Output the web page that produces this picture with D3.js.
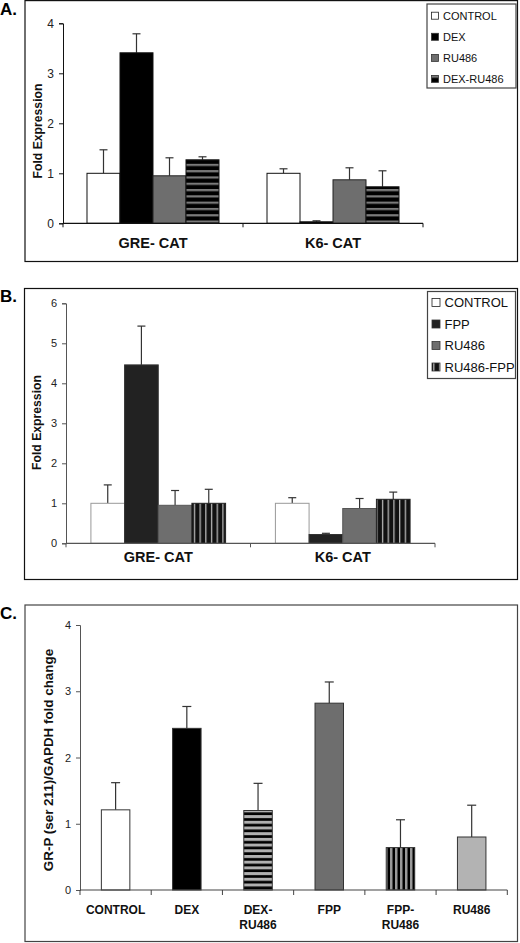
<!DOCTYPE html>
<html><head><meta charset="utf-8">
<script src="https://cdn.jsdelivr.net/npm/d3@7"></script>
<style>html,body{margin:0;padding:0;background:#fff}svg{display:block}text{font-family:"Liberation Sans",Arial,sans-serif}</style>
</head><body>
<svg id="c" width="520" height="943"></svg>
<script>
// ---- data ----
const catsAB = ["GRE- CAT", "K6- CAT"];
const seriesA = ["CONTROL", "DEX", "RU486", "DEX-RU486"];
const meansA = [[1.0, 3.41, 0.95, 1.27], [1.0, 0.03, 0.87, 0.73]];
const errTopA = [[1.47, 3.79, 1.31, 1.33], [1.09, 0.05, 1.11, 1.05]];
const ticksA = [0, 1, 2, 3, 4];

const seriesB = ["CONTROL", "FPP", "RU486", "RU486-FPP"];
const meansB = [[1.0, 4.46, 0.95, 1.0], [1.0, 0.22, 0.87, 1.1]];
const errTopB = [[1.46, 5.43, 1.32, 1.35], [1.14, 0.25, 1.12, 1.28]];
const ticksB = [0, 1, 2, 3, 4, 5, 6];

const catsC = ["CONTROL", "DEX", "DEX-\nRU486", "FPP", "FPP-\nRU486", "RU486"];
const meansC = [1.21, 2.44, 1.2, 2.82, 0.64, 0.80];
const errTopC = [1.62, 2.77, 1.61, 3.14, 1.06, 1.28];
const ticksC = [0, 1, 2, 3, 4];

const svg = d3.select("#c");
const defs = svg.append("defs");
function hPattern(id, bg, fg, period, lineH) {
  const p = defs.append("pattern").attr("id", id).attr("patternUnits", "userSpaceOnUse")
    .attr("width", 10).attr("height", period);
  p.append("rect").attr("width", 10).attr("height", period).attr("fill", bg);
  p.append("rect").attr("y", 0).attr("width", 10).attr("height", lineH).attr("fill", fg);
}
function vPattern(id, bg, fg, period, lineW) {
  const p = defs.append("pattern").attr("id", id).attr("patternUnits", "userSpaceOnUse")
    .attr("width", period).attr("height", 10);
  p.append("rect").attr("width", period).attr("height", 10).attr("fill", bg);
  p.append("rect").attr("x", 0).attr("width", lineW).attr("height", 10).attr("fill", fg);
}
hPattern("pA", "#000", "#7a7a7a", 6.3, 2.2);
vPattern("pB", "#111", "#b5b5b5", 5.7, 1.3);
hPattern("pC1", "#000", "#b0b0b0", 5.7, 3);
vPattern("pC2", "#000", "#9a9a9a", 5.0, 2.5);

const fillsA = ["#fff", "#000", "#6e6e6e", "url(#pA)"];
const fillsB = ["#fff", "#222", "#6e6e6e", "url(#pB)"];
const fillsC = ["#fff", "#000", "url(#pC1)", "#6e6e6e", "url(#pC2)", "#b3b3b3"];

// ---- frames and titles ----
function frame(x0, y0, x1, y1, col) {
  svg.append("rect").attr("x", x0).attr("y", y0).attr("width", x1 - x0).attr("height", y1 - y0)
    .attr("fill", "none").attr("stroke", col).attr("stroke-width", 1.2);
}
frame(25, 0.6, 517.5, 261.5, "#111");
frame(24.5, 288.5, 517.5, 579.5, "#111");
frame(25, 605, 517.5, 941.5, "#444");
[["A.", 15], ["B.", 302], ["C.", 619]].forEach(([t, y]) =>
  svg.append("text").attr("x", 0).attr("y", y).attr("font-size", 17).attr("font-weight", "bold").text(t));

// ---- grouped panel ----
function grouped(cfg) {
  const g = svg.append("g");
  const y = d3.scaleLinear().domain([0, cfg.ymax]).range([cfg.y0, cfg.yTop]);
  const x0 = d3.scaleBand().domain(catsAB).range([cfg.xl, cfg.xr]).paddingInner(cfg.pi).paddingOuter(cfg.po);
  const x1 = d3.scaleBand().domain(cfg.series).range([0, x0.bandwidth()]);
  const step = (cfg.xr - cfg.xl) / catsAB.length;
  // y axis
  const ya = g.append("g").attr("transform", `translate(${cfg.xl},0)`)
    .call(d3.axisLeft(y).tickValues(cfg.ticks).tickSize(4).tickPadding(5).tickFormat(d3.format("d")));
  ya.select(".domain").attr("stroke", cfg.axisCol);
  ya.selectAll(".tick line").attr("stroke", cfg.axisCol);
  ya.selectAll("text").attr("font-size", cfg.tickFs).attr("fill", "#222").style("font-family", '"Liberation Sans",Arial,sans-serif');
  // bars
  catsAB.forEach((c, ci) => {
    cfg.series.forEach((s, si) => {
      const v = cfg.means[ci][si], e = cfg.errs[ci][si];
      const bx = x0(c) + x1(s), bw = x1.bandwidth();
      const cx = bx + bw / 2;
      g.append("line").attr("x1", cx).attr("x2", cx).attr("y1", y(v)).attr("y2", y(e)).attr("stroke", "#333").attr("stroke-width", 1.2);
      g.append("line").attr("x1", cx - 4).attr("x2", cx + 4).attr("y1", y(e)).attr("y2", y(e)).attr("stroke", "#333").attr("stroke-width", 1.2);
      g.append("rect").attr("x", bx).attr("y", y(v)).attr("width", bw).attr("height", y(0) - y(v))
        .attr("fill", cfg.fills[si]).attr("stroke", cfg.barStroke[si]).attr("stroke-width", 1);
    });
  });
  // x axis
  g.append("line").attr("x1", cfg.xl).attr("x2", cfg.xr).attr("y1", y(0)).attr("y2", y(0)).attr("stroke", cfg.axisCol).attr("stroke-width", 1.2);
  d3.range(catsAB.length + 1).forEach(i => {
    const tx = cfg.xl + i * step;
    g.append("line").attr("x1", tx).attr("x2", tx).attr("y1", y(0)).attr("y2", y(0) + 4).attr("stroke", cfg.axisCol);
  });
  catsAB.forEach((c, ci) => {
    g.append("text").attr("x", cfg.xl + (ci + 0.5) * step).attr("y", cfg.catY).attr("text-anchor", "middle")
      .attr("font-size", 14.5).attr("font-weight", "bold").attr("fill", "#111").text(c);
  });
  g.append("text").attr("transform", `translate(${cfg.ylx},${cfg.yly}) rotate(-90)`).attr("text-anchor", "middle")
    .attr("font-size", 12.2).attr("font-weight", "bold").attr("fill", "#111").text("Fold Expression");
  // legend
  const L = cfg.leg;
  g.append("rect").attr("x", L.x).attr("y", L.y).attr("width", L.w).attr("height", L.h).attr("fill", "#fff").attr("stroke", "#444").attr("stroke-width", 1.2);
  cfg.series.forEach((s, si) => {
    const cy = L.y0 + si * L.dy;
    g.append("rect").attr("x", L.x + 4.5).attr("y", cy - L.sw / 2).attr("width", L.sw).attr("height", L.sw)
      .attr("fill", cfg.fills[si]).attr("stroke", si === 0 ? "#222" : "#333").attr("stroke-width", 0.8);
    g.append("text").attr("x", L.x + 6 + L.sw + 3).attr("y", cy).attr("dy", "0.36em").attr("font-size", L.fs).attr("fill", "#111").text(s);
  });
}

grouped({
  series: seriesA, means: meansA, errs: errTopA, ticks: ticksA, ymax: 4,
  y0: 223.3, yTop: 23.3, xl: 63, xr: 423, pi: 0.2667, po: 0.1333,
  fills: fillsA, barStroke: ["#111", "#111", "#222", "#111"], axisCol: "#111", tickFs: 12,
  catY: 247.5, ylx: 42, yly: 131,
  leg: { x: 427, y: 4, w: 89, h: 84, y0: 15.7, dy: 21.1, sw: 7, fs: 11 }
});
grouped({
  series: seriesB, means: meansB, errs: errTopB, ticks: ticksB, ymax: 6,
  y0: 543.3, yTop: 303.3, xl: 66, xr: 435, pi: 0.27, po: 0.135,
  fills: fillsB, barStroke: ["#999", "#333", "#555", "#222"], axisCol: "#555", tickFs: 11,
  catY: 561.5, ylx: 40.5, yly: 422.5,
  leg: { x: 427.5, y: 291.5, w: 88, h: 87, y0: 302.5, dy: 21.5, sw: 8, fs: 13 }
});

// ---- panel C ----
(function () {
  const g = svg.append("g");
  const xl = 80, xr = 507.3;
  const y = d3.scaleLinear().domain([0, 4]).range([890, 625]);
  const x = d3.scaleBand().domain(catsC).range([xl, xr]).paddingInner(0.6).paddingOuter(0.3);
  const step = (xr - xl) / catsC.length;
  const ya = g.append("g").attr("transform", `translate(${xl},0)`)
    .call(d3.axisLeft(y).tickValues(ticksC).tickSize(4).tickPadding(5).tickFormat(d3.format("d")));
  ya.select(".domain").attr("stroke", "#555");
  ya.selectAll(".tick line").attr("stroke", "#555");
  ya.selectAll("text").attr("font-size", 11).attr("fill", "#222").style("font-family", '"Liberation Sans",Arial,sans-serif');
  catsC.forEach((c, i) => {
    const bx = x(c), bw = x.bandwidth(), cx = bx + bw / 2;
    g.append("line").attr("x1", cx).attr("x2", cx).attr("y1", y(meansC[i])).attr("y2", y(errTopC[i])).attr("stroke", "#333").attr("stroke-width", 1.2);
    g.append("line").attr("x1", cx - 4.5).attr("x2", cx + 4.5).attr("y1", y(errTopC[i])).attr("y2", y(errTopC[i])).attr("stroke", "#333").attr("stroke-width", 1.2);
    g.append("rect").attr("x", bx).attr("y", y(meansC[i])).attr("width", bw).attr("height", y(0) - y(meansC[i]))
      .attr("fill", fillsC[i]).attr("stroke", "#333").attr("stroke-width", 1);
  });
  g.append("line").attr("x1", xl).attr("x2", xr).attr("y1", y(0)).attr("y2", y(0)).attr("stroke", "#444").attr("stroke-width", 1.2);
  d3.range(catsC.length + 1).forEach(i => {
    const tx = xl + i * step;
    g.append("line").attr("x1", tx).attr("x2", tx).attr("y1", y(0)).attr("y2", y(0) + 5).attr("stroke", "#444");
  });
  catsC.forEach((c, i) => {
    const t = g.append("text").attr("x", xl + (i + 0.5) * step).attr("y", 914).attr("text-anchor", "middle")
      .attr("font-size", 12).attr("font-weight", "bold").attr("fill", "#111");
    c.split("\n").forEach((ln, k) => t.append("tspan").attr("x", xl + (i + 0.5) * step).attr("dy", k ? 15 : 0).text(ln));
  });
  g.append("text").attr("transform", "translate(53,760) rotate(-90)").attr("text-anchor", "middle")
    .attr("font-size", 13.4).attr("font-weight", "bold").attr("fill", "#111").text("GR-P (ser 211)/GAPDH fold change");
})();
</script>
</body></html>
